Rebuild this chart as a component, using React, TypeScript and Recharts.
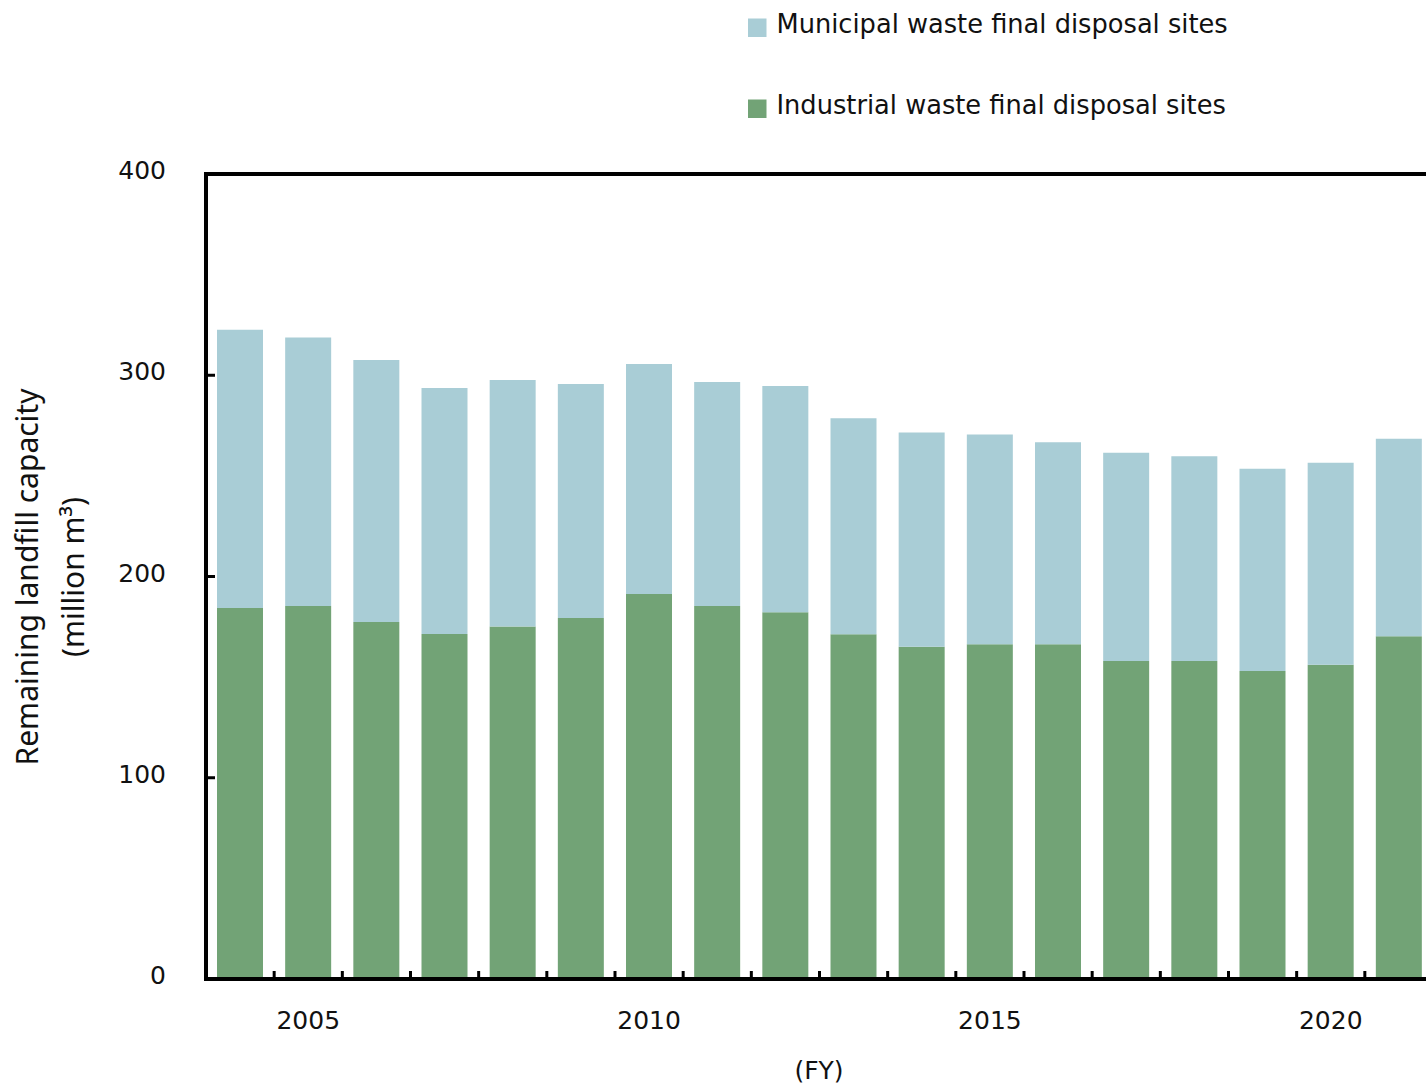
import { BarChart, Bar, XAxis, YAxis, ReferenceLine, Legend, Label } from "recharts";

// Remaining landfill capacity, million m³, by fiscal year
const years = [
  "2004", "2005", "2006", "2007", "2008", "2009", "2010", "2011", "2012",
  "2013", "2014", "2015", "2016", "2017", "2018", "2019", "2020", "2021",
];
const industrial = [
  184.3, 185.3, 177.4, 171.4, 175.2, 179.4, 191.3, 185.3, 182.2,
  171.3, 165.1, 166.3, 166.3, 158.0, 158.0, 153.0, 156.2, 170.3,
];
const municipal = [
  138.3, 133.4, 130.2, 122.3, 122.4, 116.3, 114.3, 111.3, 112.5,
  107.3, 106.4, 104.3, 100.4, 103.5, 101.7, 100.6, 100.3, 98.2,
];
const yTicks = [0, 100, 200, 300, 400];
const labelledYears = ["2005", "2010", "2015", "2020"];

const GREEN = "#72a376";
const BLUE = "#a9cdd6";
const TICK_FONT = "'DejaVu Sans', Verdana, sans-serif";

const data = years.map((year, i) => ({
  year,
  industrial: industrial[i],
  municipal: municipal[i],
}));

const YTick = ({ x, y, payload }: any) => (
  <g>
    <line x1={x} x2={x + 9} y1={y} y2={y} stroke="#000" strokeWidth={3} />
    <text x={x - 40} y={y + 5} textAnchor="end" fontSize={25} fontFamily={TICK_FONT} fill="#111">
      {payload.value}
    </text>
  </g>
);

const XTick = ({ x, y, payload }: any) => {
  const half = payload.offset || 34;
  return (
    <g>
      <line x1={x + half} x2={x + half} y1={y} y2={y - 8} stroke="#000" strokeWidth={3} />
      {labelledYears.includes(payload.value) && (
        <text x={x} y={y + 50} textAnchor="middle" fontSize={25} fontFamily={TICK_FONT} fill="#111">
          {payload.value}
        </text>
      )}
    </g>
  );
};

const LegendBox = ({ payload }: any) => {
  const items = [...(payload || [])].reverse();
  return (
    <svg width={500} height={125} style={{ display: "block" }}>
      {items.map((item: any, i: number) => (
        <g key={item.value} transform={`translate(0, ${i * 81})`}>
          <rect x={0} y={18.5} width={18.5} height={18.5} fill={item.color} />
          <text x={28.5} y={33} fontSize={25.7} fontFamily={TICK_FONT} fill="#111">
            {item.value}
          </text>
        </g>
      ))}
    </svg>
  );
};

const YTitle = () => (
  <g fontFamily="'Noto Sans', 'Open Sans', sans-serif" fontSize={30} fill="#111">
    <text x={38} y={577} transform="rotate(-90 38 577)" textAnchor="middle">
      Remaining landfill capacity
    </text>
    <text x={84} y={577} transform="rotate(-90 84 577)" textAnchor="middle">
      (million m³)
    </text>
  </g>
);

const XTitle = () => (
  <text x={819} y={1079} textAnchor="middle" fontSize={25} fontFamily={TICK_FONT} fill="#111">
    (FY)
  </text>
);

export default function App() {
  return (
    <div style={{ position: "absolute", left: 0, top: 0, width: 1426, height: 1085, overflow: "hidden", background: "#fff" }}>
      <BarChart
        width={1440}
        height={1085}
        data={data}
        margin={{ top: 174, right: 7, left: 0, bottom: 46 }}
      >
        <XAxis
          dataKey="year"
          height={60}
          interval={0}
          tickSize={0}
          tickMargin={0}
          tickLine={false}
          tick={<XTick />}
          axisLine={{ stroke: "#000", strokeWidth: 4, strokeLinecap: "square" }}
        >
          <Label content={<XTitle />} />
        </XAxis>
        <YAxis
          width={206}
          domain={[0, 400]}
          ticks={yTicks}
          interval={0}
          tickSize={0}
          tickMargin={0}
          tickLine={false}
          tick={<YTick />}
          axisLine={{ stroke: "#000", strokeWidth: 4, strokeLinecap: "square" }}
        >
          <Label content={<YTitle />} />
        </YAxis>
        <ReferenceLine y={400} stroke="#000" strokeWidth={4} />
        <Legend
          layout="horizontal"
          verticalAlign="middle"
          content={<LegendBox />}
          wrapperStyle={{ position: "absolute", left: 748, top: 0, width: 500 }}
        />
        <Bar dataKey="industrial" name="Industrial waste final disposal sites" stackId="a" fill={GREEN} barSize={46} isAnimationActive={false} />
        <Bar dataKey="municipal" name="Municipal waste final disposal sites" stackId="a" fill={BLUE} barSize={46} isAnimationActive={false} />
      </BarChart>
    </div>
  );
}
